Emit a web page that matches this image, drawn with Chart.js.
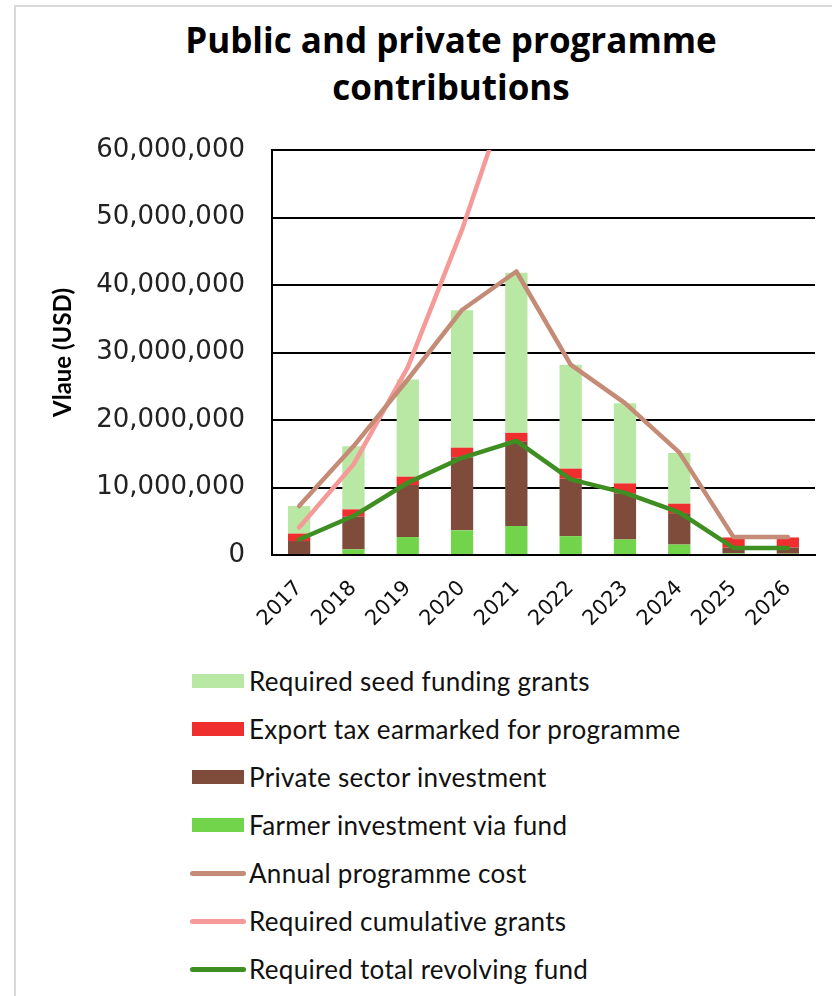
<!DOCTYPE html>
<html>
<head>
<meta charset="utf-8">
<script src="https://cdn.jsdelivr.net/npm/chart.js@4.4.1/dist/chart.umd.min.js"></script>
<style>
  html, body { margin: 0; padding: 0; background: #fff; }
  #frame { position: relative; width: 832px; height: 996px; overflow: hidden; background: #fff; }
  #card { position: absolute; left: 14px; top: 5px; width: 840px; height: 1010px; border: 2px solid #d9d9d9; box-sizing: border-box; }
  #title { position: absolute; left: 70px; width: 762px; top: 16px; text-align: center;
           font: 700 35px "Open Sans", sans-serif; line-height: 47px; letter-spacing: 0; color: #000; margin: 0; }
  #chart { position: absolute; left: 0; top: 0; }
  #legend { position: absolute; left: 0; top: 0; width: 832px; }
  .item { position: absolute; left: 0; height: 48px; width: 832px; }
  .swatch { position: absolute; left: 192px; width: 52px; height: 14px; }
  .stroke { position: absolute; left: 190px; width: 56px; height: 5px; border-radius: 3px; }
  .label { position: absolute; left: 249px; top: 0; font: 400 26px Lato, sans-serif; letter-spacing: 0.3px;
           line-height: 48px; color: #111; white-space: nowrap; }
</style>
</head>
<body>
<div id="frame">
  <div id="card"></div>
  <h1 id="title">Public and private programme<br>contributions</h1>
  <canvas id="chart" width="832" height="650"></canvas>
  <div id="legend"></div>
</div>
<script>
// Programme years
const years = ['2017', '2018', '2019', '2020', '2021', '2022', '2023', '2024', '2025', '2026'];

// Stacked contributions (USD)
const seedFundingGrants = [4080000, 9340000, 14400000, 20350000, 23700000, 15400000, 11900000, 7500000, 0, 0];
const exportTax         = [1100000, 1080000, 1240000, 1400000, 1300000, 1500000, 1500000, 1400000, 1500000, 1500000];
const privateInvestment = [2070000, 4840000, 7700000, 10850000, 12500000, 8500000, 6800000, 4650000, 850000, 900000];
const farmerInvestment  = [0, 840000, 2660000, 3650000, 4300000, 2800000, 2300000, 1550000, 250000, 200000];

// Line series (USD)
const annualCost        = [7250000, 16100000, 26000000, 36300000, 42000000, 28200000, 22500000, 15200000, 2650000, 2650000];
const cumulativeGrants  = [4080000, 13400000, 27800000, 48200000, 71900000, null, null, null, null, null];
const revolvingFund     = [2300000, 5770000, 10700000, 14400000, 16900000, 11200000, 9200000, 6300000, 1050000, 1050000];

// Value axis ticks
const yTicks = [0, 10000000, 20000000, 30000000, 40000000, 50000000, 60000000];

const COLORS = {
  seed: '#b8e8a3',
  tax: '#ee2f2d',
  private: '#7f4c3b',
  farmer: '#72d44a',
  annual: '#c48c76',
  cumulative: '#f59a98',
  revolving: '#3e8e22'
};

const barDefaults = { type: 'bar', order: 1, barPercentage: 0.41, categoryPercentage: 1, borderWidth: 0, stack: 'bars' };
const lineDefaults = { type: 'line', order: 0, borderWidth: 4.5, pointRadius: 0, borderCapStyle: 'round', borderJoinStyle: 'round', tension: 0, fill: false, spanGaps: false };

const datasets = [
  { ...barDefaults, label: 'Farmer investment via fund', data: farmerInvestment, backgroundColor: COLORS.farmer },
  { ...barDefaults, label: 'Private sector investment', data: privateInvestment, backgroundColor: COLORS.private },
  { ...barDefaults, label: 'Export tax earmarked for programme', data: exportTax, backgroundColor: COLORS.tax },
  { ...barDefaults, label: 'Required seed funding grants', data: seedFundingGrants, backgroundColor: COLORS.seed },
  { ...lineDefaults, label: 'Required total revolving fund', data: revolvingFund, borderColor: COLORS.revolving, stack: 'l3' },
  { ...lineDefaults, label: 'Annual programme cost', data: annualCost, borderColor: COLORS.annual, stack: 'l1' },
  { ...lineDefaults, label: 'Required cumulative grants', data: cumulativeGrants, borderColor: COLORS.cumulative, stack: 'l2' }
];

const fmt = v => Number(v).toLocaleString('en-US');

new Chart(document.getElementById('chart'), {
  data: { labels: years, datasets },
  options: {
    responsive: false,
    devicePixelRatio: 1,
    animation: false,
    layout: { padding: { left: 0, right: 17, top: 150, bottom: 15 } },
    plugins: { legend: { display: false }, title: { display: false }, tooltip: { enabled: false } },
    scales: {
      x: {
        stacked: true,
        grid: { display: false },
        border: { display: true, color: '#000', width: 2 },
        ticks: { minRotation: 45, maxRotation: 45, color: '#111', padding: 13,
                 font: { family: 'DejaVu Sans', size: 21 } },
        afterFit: s => { s.height = 80; }
      },
      y: {
        stacked: true,
        min: 0,
        max: yTicks[yTicks.length - 1],
        afterBuildTicks: s => { s.ticks = yTicks.map(v => ({ value: v })); },
        ticks: { callback: v => fmt(v), color: '#222', padding: 27,
                 font: { family: 'DejaVu Sans', size: 26 } },
        grid: { color: '#000', lineWidth: 2, drawTicks: false },
        border: { display: true, color: '#000', width: 2 },
        title: { display: true, text: 'Vlaue (USD)', color: '#000', padding: { top: 49, bottom: 0 },
                 font: { family: 'Lato', size: 24, weight: 'bold' } },
        afterFit: s => { s.width = 272; }
      }
    }
  }
});

// Legend, listed top to bottom
const legendOrder = [
  { label: 'Required seed funding grants', color: COLORS.seed, kind: 'box' },
  { label: 'Export tax earmarked for programme', color: COLORS.tax, kind: 'box' },
  { label: 'Private sector investment', color: COLORS.private, kind: 'box' },
  { label: 'Farmer investment via fund', color: COLORS.farmer, kind: 'box' },
  { label: 'Annual programme cost', color: COLORS.annual, kind: 'line' },
  { label: 'Required cumulative grants', color: COLORS.cumulative, kind: 'line' },
  { label: 'Required total revolving fund', color: COLORS.revolving, kind: 'line' }
];
const legend = document.getElementById('legend');
legendOrder.forEach((it, i) => {
  const row = document.createElement('div');
  row.className = 'item';
  row.style.top = (657 + i * 48) + 'px';
  const mark = document.createElement('div');
  mark.className = it.kind === 'box' ? 'swatch' : 'stroke';
  mark.style.background = it.color;
  mark.style.top = it.kind === 'box' ? '17px' : '21.5px';
  const txt = document.createElement('div');
  txt.className = 'label';
  txt.textContent = it.label;
  row.appendChild(mark);
  row.appendChild(txt);
  legend.appendChild(row);
});
</script>
</body>
</html>
